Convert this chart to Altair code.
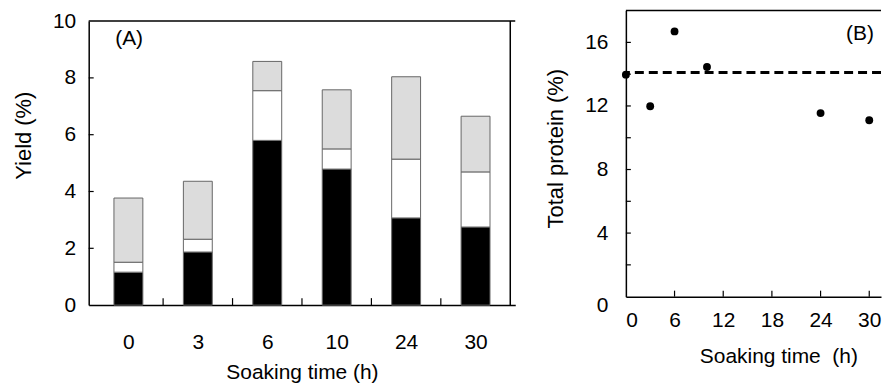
import altair as alt
import pandas as pd

# ---- Panel A data: stacked yield segments (%) ----
soak_cats = ["0", "3", "6", "10", "24", "30"]
black_seg = [1.16, 1.87, 5.80, 4.79, 3.07, 2.75]
white_seg = [0.35, 0.45, 1.75, 0.71, 2.07, 1.94]
gray_seg = [2.26, 2.04, 1.03, 2.08, 2.90, 1.96]

# ---- Panel B data: total protein (%) ----
protein_time = [0, 3, 6, 10, 24, 30]
protein_val = [13.97, 11.98, 16.69, 14.45, 11.55, 11.1]
protein_ref = 14.1

FONT = "Liberation Sans"
FS = 21

rows = []
for i, c in enumerate(soak_cats):
    for order, (name, seg) in enumerate([("black", black_seg), ("white", white_seg), ("gray", gray_seg)]):
        rows.append({"idx": i, "cat": c, "segment": name, "order": order, "value": seg[i]})
bars_df = pd.DataFrame(rows)

TOP_A = 10.5          # panel A frame starts lower than panel B
W1, H1 = 428, 295.5   # panel A group (frame spans TOP_A..H1)
W2, H2 = 256, 287
XB_MAX = 31.45        # visible part of panel B's time axis (panel is cut at the right edge)
NA = len(soak_cats)

label_expr = "[" + ",".join("'%s'" % c for c in soak_cats) + "][datum.value]"

xA_scale = alt.Scale(domain=[-0.5, NA - 0.5], nice=False, zero=False)
yA_scale = alt.Scale(domain=[0, 10], nice=False, range=[H1, TOP_A])

bars = alt.Chart(bars_df).mark_bar(size=29, stroke="#666666", strokeWidth=1).encode(
    x=alt.X("idx:Q", scale=xA_scale,
            axis=alt.Axis(values=list(range(NA)), labelExpr=label_expr, tickSize=0,
                          labelPadding=27, title="Soaking time (h)", titlePadding=9, grid=False,
                          domainColor="black", domainWidth=1.5)),
    y=alt.Y("value:Q", stack="zero", scale=yA_scale,
            axis=alt.Axis(values=[0, 2, 4, 6, 8, 10], tickSize=0, labelPadding=13,
                          title="Yield (%)", titlePadding=17, titleY=125, titleAlign="center",
                          titleFontSize=22,
                          grid=False, domainColor="black", domainWidth=1.5)),
    color=alt.Color("segment:N", scale=alt.Scale(domain=["black", "white", "gray"],
                                                  range=["#000000", "#ffffff", "#dcdcdc"]), legend=None),
    order=alt.Order("order:Q"),
)

frame_top = alt.Chart(pd.DataFrame({"r": [10]})).mark_rule(color="black", strokeWidth=1.5).encode(
    y=alt.Y("r:Q", scale=yA_scale))
frame_right = alt.Chart(pd.DataFrame({"x": [NA - 0.5], "y0": [0], "y1": [10]})).mark_rule(
    color="black", strokeWidth=1.5).encode(
    x=alt.X("x:Q", scale=xA_scale), y=alt.Y("y0:Q", scale=yA_scale), y2="y1:Q")
ytickA = alt.Chart(pd.DataFrame({"v": [2, 4, 6, 8]})).mark_rule(color="black", strokeWidth=1.2).encode(
    y=alt.Y("v:Q", scale=yA_scale), x=alt.value(0), x2=alt.value(5))
xtickA = alt.Chart(pd.DataFrame({"b": [k + 0.5 for k in range(NA - 1)]})).mark_rule(
    color="black", strokeWidth=1.2).encode(
    x=alt.X("b:Q", scale=xA_scale), y=alt.value(H1), y2=alt.value(H1 - 7))
labelA = alt.Chart(pd.DataFrame({"t": ["(A)"]})).mark_text(
    align="left", baseline="middle", font=FONT, fontSize=FS, color="black").encode(
    x=alt.datum(-0.19), y=alt.datum(9.38), text="t:N")

panelA = alt.layer(bars, frame_top, frame_right, ytickA, xtickA, labelA).properties(
    width=W1, height=H1, view=alt.ViewBackground(strokeOpacity=0))

# ---- Panel B ----
xB_scale = alt.Scale(domain=[0, XB_MAX], nice=False)
yB_scale = alt.Scale(domain=[0, 18], nice=False)

pts_df = pd.DataFrame({"t": protein_time, "p": protein_val})
points = alt.Chart(pts_df).mark_circle(size=62, color="black", opacity=1).encode(
    x=alt.X("t:Q", scale=xB_scale,
            axis=alt.Axis(values=[0, 6, 12, 18, 24, 30], tickSize=0, labelPadding=13,
                          title="Soaking time\u00a0 (h)", titlePadding=15, titleX=153, titleAlign="center",
                          grid=False, domainColor="black", domainWidth=1.5)),
    y=alt.Y("p:Q", scale=yB_scale,
            axis=alt.Axis(values=[0, 4, 8, 12, 16], tickSize=0, labelPadding=18,
                          labelOffset={"condition": {"test": "datum.value == 0", "value": 9}, "value": 0},
                          title="Total protein (%)", titlePadding=17, titleY=138, titleAlign="center",
                          titleFontSize=22,
                          grid=False, domainColor="black", domainWidth=1.5)),
)
refline = alt.Chart(pd.DataFrame({"r": [protein_ref]})).mark_rule(
    color="black", strokeWidth=3, strokeDash=[9, 5]).encode(y=alt.Y("r:Q", scale=yB_scale))
topline = alt.Chart(pd.DataFrame({"r": [18]})).mark_rule(color="black", strokeWidth=1.5).encode(
    y=alt.Y("r:Q", scale=yB_scale))
ytickB = alt.Chart(pd.DataFrame({"v": [2, 4, 6, 8, 10, 12, 14, 16]})).mark_rule(
    color="black", strokeWidth=1.2).encode(y=alt.Y("v:Q", scale=yB_scale), x=alt.value(0), x2=alt.value(5))
xtickB = alt.Chart(pd.DataFrame({"b": [6, 12, 18, 24, 30]})).mark_rule(color="black", strokeWidth=1.2).encode(
    x=alt.X("b:Q", scale=xB_scale), y=alt.value(H2), y2=alt.value(H2 - 6))
labelB = alt.Chart(pd.DataFrame({"t": ["(B)"]})).mark_text(
    align="left", baseline="middle", font=FONT, fontSize=FS, color="black").encode(
    x=alt.datum(27.15), y=alt.datum(16.5), text="t:N")

panelB = alt.layer(refline, topline, ytickB, xtickB, points, labelB).properties(
    width=W2, height=H2, view=alt.ViewBackground(strokeOpacity=0))

chart = alt.hconcat(panelA, panelB, spacing=28).properties(
    padding={"left": 12, "top": 9, "right": 0, "bottom": 0},
    background="white",
).configure_axis(
    labelFont=FONT, labelFontSize=FS, labelColor="black",
    titleFont=FONT, titleFontSize=FS, titleFontWeight="normal", titleColor="black",
).configure_view(stroke="black")

chart.save("out.html", embed_options={"renderer": "svg", "actions": False})
